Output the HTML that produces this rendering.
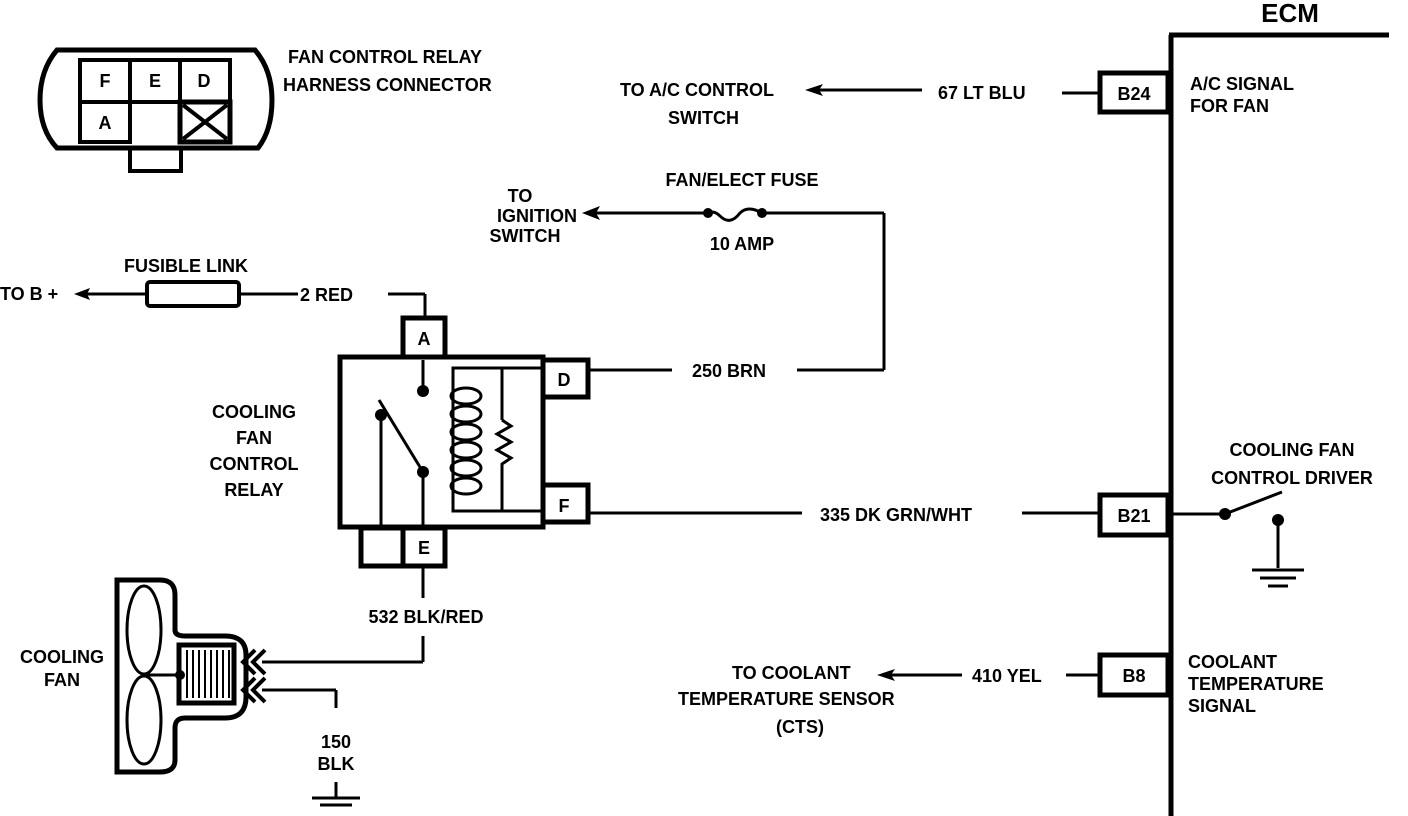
<!DOCTYPE html>
<html><head><meta charset="utf-8"><style>
html,body{margin:0;padding:0;background:#fff;}
svg{display:block;}
text{font-family:"Liberation Sans",sans-serif;font-weight:bold;font-size:18px;fill:#000;}
</style></head><body>
<svg width="1408" height="816" viewBox="0 0 1408 816" xmlns="http://www.w3.org/2000/svg">
<g fill="none" stroke="#000" stroke-width="3">
<path d="M57,50 L255,50 Q272,70 272,100 Q272,130 258,148 L57,148 Q40,130 40,100 Q40,70 57,50 Z" stroke-width="5"/>
<rect x="80" y="60" width="150" height="42" stroke-width="4"/>
<rect x="80" y="102" width="50" height="40" stroke-width="4"/>
<rect x="180" y="102" width="50" height="40" stroke-width="5"/>
<line x1="130" y1="60" x2="130" y2="102" stroke-width="4"/>
<line x1="180" y1="60" x2="180" y2="102" stroke-width="4"/>
<line x1="183" y1="105" x2="227" y2="139" stroke-width="4"/>
<line x1="227" y1="105" x2="183" y2="139" stroke-width="4"/>
<path d="M130,150 L130,171 L181,171 L181,150" stroke-width="4"/>

<line x1="85" y1="294" x2="146" y2="294"/>
<rect x="147" y="282" width="92" height="24" rx="3" stroke-width="4"/>
<line x1="239" y1="294" x2="298" y2="294"/>
<line x1="388" y1="294" x2="425" y2="294"/>
<line x1="425" y1="294" x2="425" y2="318"/>

<rect x="340" y="357" width="203" height="170" stroke-width="5"/>
<rect x="403" y="318" width="42" height="39" stroke-width="5"/>
<rect x="543" y="360" width="45" height="37" stroke-width="5"/>
<rect x="543" y="485" width="45" height="37" stroke-width="5"/>
<rect x="361" y="528" width="42" height="38" stroke-width="5"/>
<rect x="403" y="528" width="42" height="38" stroke-width="5"/>
<line x1="423" y1="360" x2="423" y2="390"/>
<line x1="423" y1="470" x2="423" y2="525"/>
<line x1="381" y1="415" x2="381" y2="525"/>
<line x1="379" y1="400" x2="423" y2="472"/>
<path d="M545,368 L453,368 L453,511 L545,511"/>
<line x1="502" y1="368" x2="502" y2="420"/>
<path d="M502,420 L511,426 L497,434 L511,442 L497,450 L511,458 L502,464 L502,511"/>
<g stroke-width="3">
<ellipse cx="466" cy="396" rx="15" ry="8"/>
<ellipse cx="466" cy="414" rx="15" ry="8"/>
<ellipse cx="466" cy="432" rx="15" ry="8"/>
<ellipse cx="466" cy="450" rx="15" ry="8"/>
<ellipse cx="466" cy="468" rx="15" ry="8"/>
<ellipse cx="466" cy="486" rx="15" ry="8"/>
</g>

<line x1="588" y1="370" x2="672" y2="370"/>
<line x1="797" y1="370" x2="884" y2="370"/>
<line x1="884" y1="370" x2="884" y2="213"/>
<line x1="884" y1="213" x2="762" y2="213"/>
<path d="M762,213 Q748,205 740,213 Q730,226 720,216 Q714,210 708,213"/>
<line x1="708" y1="213" x2="595" y2="213"/>

<line x1="588" y1="513" x2="802" y2="513"/>
<line x1="1022" y1="513" x2="1100" y2="513"/>

<line x1="423" y1="566" x2="423" y2="598"/>
<line x1="423" y1="636" x2="423" y2="662"/>
<line x1="423" y1="662" x2="262" y2="662"/>
<line x1="336" y1="708" x2="336" y2="690"/>
<line x1="336" y1="690" x2="262" y2="690"/>
<line x1="336" y1="782" x2="336" y2="798"/>
<line x1="312" y1="798" x2="360" y2="798"/>
<line x1="320" y1="805" x2="352" y2="805"/>

<path d="M117,580 L160,580 Q175,580 175,595 L175,630 Q175,636 185,636 L225,636 Q246,636 246,655 L246,697 Q246,718 225,718 L185,718 Q175,718 175,728 L175,760 Q175,772 160,772 L117,772 Z" stroke-width="5"/>
<ellipse cx="144" cy="630" rx="17" ry="44"/>
<ellipse cx="144" cy="720" rx="17" ry="44"/>
<line x1="144" y1="675" x2="180" y2="675"/>
<rect x="179" y="645" width="55" height="58" stroke-width="5"/>
<g stroke-width="2"><line x1="187" y1="650" x2="187" y2="698"/><line x1="193" y1="650" x2="193" y2="698"/><line x1="199" y1="650" x2="199" y2="698"/><line x1="205" y1="650" x2="205" y2="698"/><line x1="211" y1="650" x2="211" y2="698"/><line x1="217" y1="650" x2="217" y2="698"/><line x1="223" y1="650" x2="223" y2="698"/><line x1="229" y1="650" x2="229" y2="698"/></g>
<path d="M255,650 L243,662 L255,674 M265,650 L253,662 L265,674" stroke-width="4"/>
<path d="M255,678 L243,690 L255,702 M265,678 L253,690 L265,702" stroke-width="4"/>

<line x1="818" y1="90" x2="922" y2="90"/>
<line x1="1062" y1="93" x2="1100" y2="93"/>
<line x1="890" y1="675" x2="962" y2="675"/>
<line x1="1066" y1="675" x2="1100" y2="675"/>

<line x1="1171" y1="35" x2="1171" y2="816" stroke-width="5"/>
<line x1="1169" y1="35" x2="1389" y2="35" stroke-width="5"/>
<rect x="1100" y="73" width="68" height="39" stroke-width="5"/>
<rect x="1100" y="495" width="68" height="40" stroke-width="5"/>
<rect x="1100" y="655" width="68" height="40" stroke-width="5"/>
<line x1="1171" y1="514" x2="1225" y2="514"/>
<line x1="1225" y1="514" x2="1282" y2="492"/>
<line x1="1278" y1="520" x2="1278" y2="568"/>
<line x1="1252" y1="570" x2="1304" y2="570"/>
<line x1="1260" y1="578" x2="1296" y2="578"/>
<line x1="1268" y1="586" x2="1288" y2="586"/>
</g>
<g fill="#000">
<circle cx="423" cy="391" r="6"/><circle cx="423" cy="472" r="6"/><circle cx="381" cy="415" r="6"/>
<circle cx="708" cy="213" r="5"/><circle cx="762" cy="213" r="5"/>
<circle cx="1225" cy="514" r="6"/><circle cx="1278" cy="520" r="6"/>
<circle cx="180" cy="675" r="5"/>
<path d="M74,294 L90,288 L87,294 L90,300 Z"/>
<path d="M582,213 L600,206 L596,213 L600,220 Z"/>
<path d="M805,90 L823,84 L819,90 L823,96 Z"/>
<path d="M877,675 L895,669 L891,675 L895,681 Z"/>
</g>
<text x="105" y="87" text-anchor="middle">F</text>
<text x="155" y="87" text-anchor="middle">E</text>
<text x="204" y="87" text-anchor="middle">D</text>
<text x="105" y="129" text-anchor="middle">A</text>
<text x="288" y="63">FAN CONTROL RELAY</text>
<text x="283" y="91">HARNESS CONNECTOR</text>
<text x="620" y="96">TO A/C CONTROL</text>
<text x="668" y="124">SWITCH</text>
<text x="938" y="99">67 LT BLU</text>
<text x="1134" y="100" text-anchor="middle">B24</text>
<text x="1190" y="90">A/C SIGNAL</text>
<text x="1190" y="112">FOR FAN</text>
<text x="1290" y="22" text-anchor="middle" style="font-size:26px">ECM</text>
<text x="742" y="186" text-anchor="middle">FAN/ELECT FUSE</text>
<text x="742" y="250" text-anchor="middle">10 AMP</text>
<text x="520" y="202" text-anchor="middle">TO</text>
<text x="537" y="222" text-anchor="middle">IGNITION</text>
<text x="525" y="242" text-anchor="middle">SWITCH</text>
<text x="186" y="272" text-anchor="middle">FUSIBLE LINK</text>
<text x="0" y="300">TO B +</text>
<text x="300" y="301">2 RED</text>
<text x="424" y="345" text-anchor="middle">A</text>
<text x="564" y="386" text-anchor="middle">D</text>
<text x="564" y="512" text-anchor="middle">F</text>
<text x="424" y="554" text-anchor="middle">E</text>
<text x="692" y="377">250 BRN</text>
<text x="820" y="521">335 DK GRN/WHT</text>
<text x="1134" y="522" text-anchor="middle">B21</text>
<text x="254" y="418" text-anchor="middle">COOLING</text>
<text x="254" y="444" text-anchor="middle">FAN</text>
<text x="254" y="470" text-anchor="middle">CONTROL</text>
<text x="254" y="496" text-anchor="middle">RELAY</text>
<text x="1292" y="456" text-anchor="middle">COOLING FAN</text>
<text x="1292" y="484" text-anchor="middle">CONTROL DRIVER</text>
<text x="426" y="623" text-anchor="middle">532  BLK/RED</text>
<text x="62" y="663" text-anchor="middle">COOLING</text>
<text x="62" y="686" text-anchor="middle">FAN</text>
<text x="336" y="748" text-anchor="middle">150</text>
<text x="336" y="770" text-anchor="middle">BLK</text>
<text x="732" y="679">TO COOLANT</text>
<text x="678" y="705">TEMPERATURE  SENSOR</text>
<text x="800" y="733" text-anchor="middle">(CTS)</text>
<text x="972" y="682">410 YEL</text>
<text x="1134" y="682" text-anchor="middle">B8</text>
<text x="1188" y="668">COOLANT</text>
<text x="1188" y="690">TEMPERATURE</text>
<text x="1188" y="712">SIGNAL</text>
</svg>
</body></html>
